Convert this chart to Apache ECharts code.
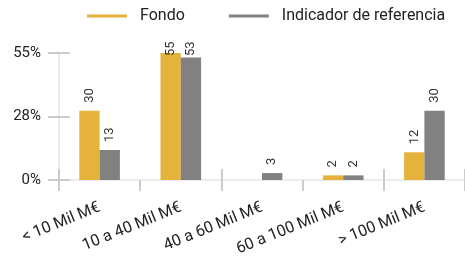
<!DOCTYPE html>
<html>
<head>
<meta charset="utf-8">
<script src="https://cdn.jsdelivr.net/npm/echarts@6/dist/echarts.min.js"></script>
<style>
  html, body { margin: 0; padding: 0; background: #fff; }
  #chart { width: 465px; height: 260px; }
</style>
</head>
<body>
<div id="chart"></div>
<script>
const categories = ['< 10 Mil M€', '10 a 40 Mil M€', '40 a 60 Mil M€', '60 a 100 Mil M€', '> 100 Mil M€']
const fondo = [30, 55, 0, 2, 12]
const indicador = [13, 53, 3, 2, 30]
const yTicks = [0, 27.5, 55]

const myChart = echarts.init(document.getElementById('chart'))
const font = 'Roboto, sans-serif'
const labelGap = 8
const labelTopLimit = 41
const labelLen = 15

const barLabel = {
  show: true,
  position: 'top',
  rotate: 90,
  align: 'left',
  verticalAlign: 'middle',
  distance: labelGap,
  color: '#333',
  fontSize: 13,
  fontFamily: font,
  formatter: p => (p.value === 0 ? '' : p.value)
}

const option = {
  animation: false,
  textStyle: { fontFamily: font },
  legend: {
    top: 3,
    left: 82,
    itemWidth: 40,
    itemHeight: 3,
    itemGap: 44,
    icon: 'rect',
    textStyle: { fontSize: 16, color: '#222', fontFamily: font, padding: [0, 0, 0, 8] },
    data: ['Fondo', 'Indicador de referencia']
  },
  grid: { left: 59, right: -6, top: 53, bottom: 80, containLabel: false },
  xAxis: [
    {
      type: 'category',
      data: categories,
      axisLine: { lineStyle: { color: '#ececf0', width: 2 } },
      axisTick: { show: true, length: 11, lineStyle: { color: '#cccccc', width: 2 } },
      axisLabel: { rotate: 22, margin: 27, fontSize: 16, color: '#222', fontFamily: font, interval: 0 }
    },
    {
      type: 'category',
      data: categories,
      position: 'bottom',
      axisLine: { show: false },
      axisTick: { show: true, inside: true, length: 11, lineStyle: { color: '#cccccc', width: 2 } },
      axisLabel: { show: false }
    }
  ],
  yAxis: [
    {
      type: 'value',
      min: yTicks[0],
      max: yTicks[2],
      interval: yTicks[1],
      splitLine: { show: false },
      axisLine: { show: true, lineStyle: { color: '#ececf0', width: 2 } },
      axisTick: { show: true, length: 11, lineStyle: { color: '#cccccc', width: 2 } },
      axisLabel: { margin: 18, fontSize: 15, color: '#222', fontFamily: font, formatter: v => Math.round(v) + '%' }
    },
    {
      type: 'value',
      position: 'left',
      min: yTicks[0],
      max: yTicks[2],
      interval: yTicks[1],
      splitLine: { show: false },
      axisLine: { show: false },
      axisTick: { show: true, inside: true, length: 11, lineStyle: { color: '#cccccc', width: 2 } },
      axisLabel: { show: false }
    }
  ],
  series: [
    {
      name: 'Fondo',
      type: 'bar',
      data: fondo,
      barWidth: '25%',
      barGap: '0%',
      itemStyle: { color: '#e5b23b' },
      label: barLabel
    },
    {
      name: 'Indicador de referencia',
      type: 'bar',
      data: indicador,
      barWidth: '25%',
      barGap: '0%',
      itemStyle: { color: '#818181' },
      label: barLabel
    }
  ]
}
myChart.setOption(option)

// tall bars: shrink the label distance so the label does not rise above labelTopLimit
const withLabelDistance = values => values.map((v, i) => {
  const barTop = myChart.convertToPixel({ xAxisIndex: 0, yAxisIndex: 0 }, [i, v])[1]
  const d = Math.min(labelGap, barTop - labelTopLimit - labelLen)
  return { value: v, label: { distance: d } }
})
myChart.setOption({
  series: [
    { name: 'Fondo', data: withLabelDistance(fondo) },
    { name: 'Indicador de referencia', data: withLabelDistance(indicador) }
  ]
})
window.addEventListener('resize', () => myChart.resize())
</script>
</body>
</html>
